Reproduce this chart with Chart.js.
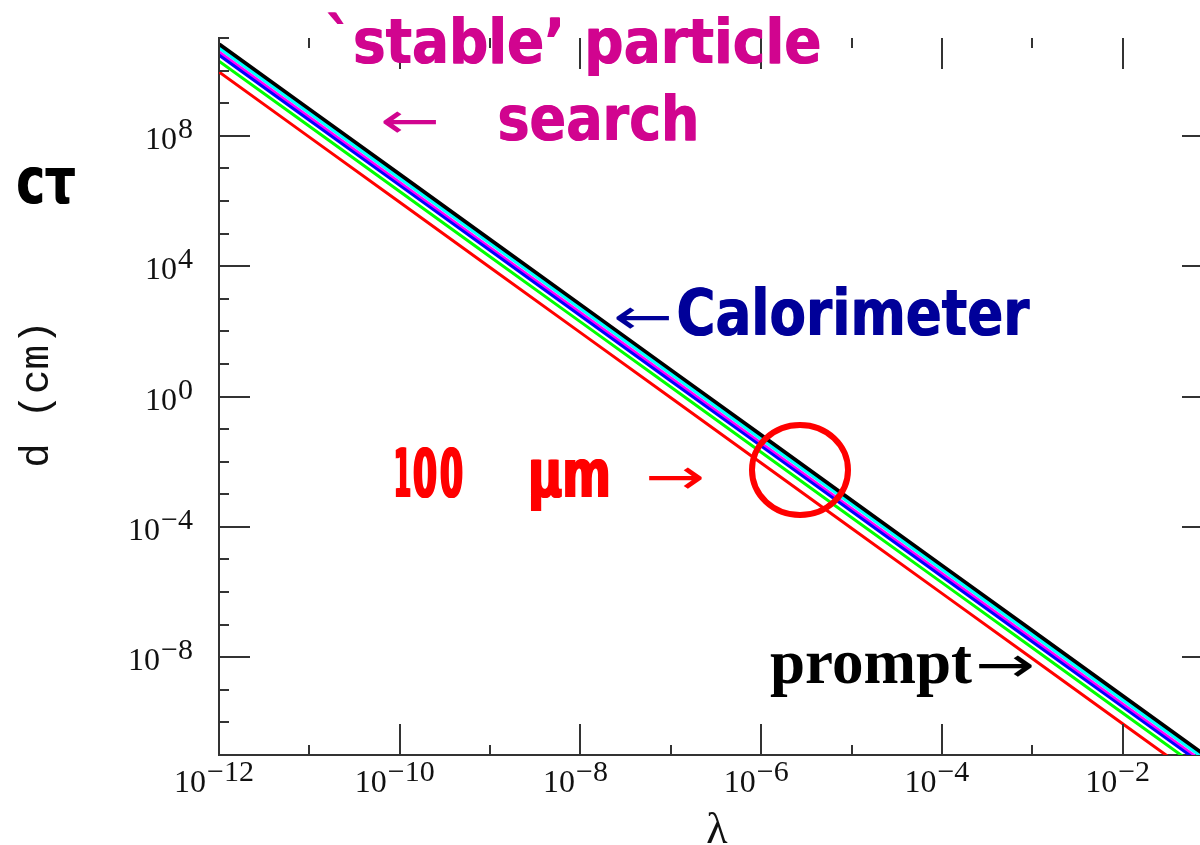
<!DOCTYPE html>
<html>
<head>
<meta charset="utf-8">
<title>d vs lambda</title>
<script src="https://cdn.jsdelivr.net/npm/chart.js@4.4.1/dist/chart.umd.min.js"></script>
<style>
  body { margin: 0; background: #fff; overflow: hidden; }
  #wrap { position: absolute; left: 0; top: 0; width: 1215px; height: 845px; }
</style>
</head>
<body>
<div id="wrap"><canvas id="decayChart"></canvas></div>
<script>
// lambda values (x) and decay length d in cm (y)
const lambdaVals = [1e-12, 1e-11, 1e-10, 1e-9, 1e-8, 1e-7, 1e-6, 1e-5, 1e-4, 1e-3, 1e-2, 1e-1];
const dBlack   = [6.2e10, 6.2e8, 6.2e6, 6.2e4, 6.2e2, 6.2, 6.2e-2, 6.2e-4, 6.2e-6, 6.2e-8, 6.2e-10, 6.2e-12];
const dCyan    = [4.9e10, 4.9e8, 4.9e6, 4.9e4, 4.9e2, 4.9, 4.9e-2, 4.9e-4, 4.9e-6, 4.9e-8, 4.9e-10, 4.9e-12];
const dMagenta = [3.7e10, 3.7e8, 3.7e6, 3.7e4, 3.7e2, 3.7, 3.7e-2, 3.7e-4, 3.7e-6, 3.7e-8, 3.7e-10, 3.7e-12];
const dBlue    = [3.0e10, 3.0e8, 3.0e6, 3.0e4, 3.0e2, 3.0, 3.0e-2, 3.0e-4, 3.0e-6, 3.0e-8, 3.0e-10, 3.0e-12];
const dGreen   = [1.95e10, 1.95e8, 1.95e6, 1.95e4, 1.95e2, 1.95, 1.95e-2, 1.95e-4, 1.95e-6, 1.95e-8, 1.95e-10, 1.95e-12];
const dRed     = [9.1e9, 9.1e7, 9.1e5, 9.1e3, 91, 0.91, 9.1e-3, 9.1e-5, 9.1e-7, 9.1e-9, 9.1e-11, 9.1e-13];

// decades that carry a label (and a long tick)
const xLabelExps = [-12, -10, -8, -6, -4, -2];
const yLabelExps = [8, 4, 0, -4, -8];
const xRange = [-12, -1];
const yRange = [-11, 11];

function pts(ys) {
  return lambdaVals.map((l, i) => ({ x: l, y: ys[i] }));
}

function line(label, ys, color, width, order) {
  return {
    label: label,
    data: pts(ys),
    borderColor: color,
    backgroundColor: color,
    borderWidth: width,
    pointRadius: 0,
    tension: 0,
    order: order
  };
}

// "10" with a raised exponent
function drawPow(ctx, exp, x, y, align) {
  const base = '10';
  const sup = (exp < 0 ? '\u2212' : '') + Math.abs(exp);
  ctx.font = '32px "Liberation Serif"';
  const wb = ctx.measureText(base).width;
  ctx.font = '30px "Liberation Serif"';
  const ws = ctx.measureText(sup).width;
  const total = wb + 1 + ws;
  const left = align === 'right' ? x - total : x - total / 2;
  ctx.textAlign = 'left';
  ctx.textBaseline = 'alphabetic';
  ctx.font = '32px "Liberation Serif"';
  ctx.fillText(base, left, y);
  ctx.font = '30px "Liberation Serif"';
  ctx.fillText(sup, left + wb + 1, y - 11);
}

// text squeezed/stretched to a given width; "heavy" smears it sideways a few px
function fitText(ctx, text, left, baseline, width, font, color, heavy) {
  heavy = heavy || 0;
  ctx.save();
  ctx.font = font;
  ctx.fillStyle = color;
  ctx.textAlign = 'left';
  ctx.textBaseline = 'alphabetic';
  const w = ctx.measureText(text).width;
  const sx = (width - heavy) / w;
  for (let dx = 0; dx <= heavy; dx++) {
    ctx.save();
    ctx.translate(left + dx, baseline);
    ctx.scale(sx, 1);
    ctx.fillText(text, 0, 0);
    ctx.restore();
  }
  ctx.restore();
}

function arrow(ctx, ch, left, midY, width, size, color) {
  fitText(ctx, ch, left, midY + size * 0.3, width, size + 'px "DejaVu Sans"', color);
}

const frame = {
  id: 'frame',
  afterDraw(chart) {
    const ctx = chart.ctx;
    const a = chart.chartArea;
    const xs = chart.scales.x, ys = chart.scales.y;
    ctx.save();
    ctx.strokeStyle = '#333';
    ctx.lineWidth = 2;
    ctx.beginPath();
    for (let e = xRange[0]; e <= xRange[1]; e++) {
      const px = Math.round(xs.getPixelForValue(Math.pow(10, e)));
      const len = xLabelExps.includes(e) ? 31 : 10;
      ctx.moveTo(px, a.bottom); ctx.lineTo(px, a.bottom - len);
      ctx.moveTo(px, a.top); ctx.lineTo(px, a.top + len);
    }
    for (let e = yRange[0]; e <= yRange[1]; e++) {
      const py = Math.round(ys.getPixelForValue(Math.pow(10, e)));
      const len = yLabelExps.includes(e) ? 31 : 10;
      ctx.moveTo(a.left, py); ctx.lineTo(a.left + len, py);
      ctx.moveTo(a.right, py); ctx.lineTo(a.right - len, py);
    }
    ctx.stroke();

    ctx.fillStyle = '#111';
    xLabelExps.forEach(e => {
      const px = xs.getPixelForValue(Math.pow(10, e));
      drawPow(ctx, e, px - 5, a.bottom + 37, 'center');
    });
    yLabelExps.forEach(e => {
      const py = ys.getPixelForValue(Math.pow(10, e));
      drawPow(ctx, e, 193, py + 13, 'right');
    });

    // axis titles
    ctx.fillStyle = '#111';
    ctx.font = '44px "Liberation Serif"';
    ctx.textAlign = 'center';
    ctx.textBaseline = 'alphabetic';
    ctx.fillText('\u03bb', 717, 843);

    ctx.save();
    ctx.translate(48, 394);
    ctx.rotate(-Math.PI / 2);
    ctx.font = '41px "Liberation Mono"';
    ctx.textAlign = 'center';
    ctx.fillText('d (cm)', 0, 0);
    ctx.restore();

    fitText(ctx, 'c\u03c4', 16, 203, 60, 'bold 64px "DejaVu Sans"', '#000', 1);

    // annotations
    const pink = '#d1048f', navy = '#000099', red = '#ff0000';
    fitText(ctx, '`stable\u2019 particle', 325, 63, 497, 'bold 62px "DejaVu Sans"', pink, 1);
    fitText(ctx, 'search', 497, 140, 203, 'bold 62px "DejaVu Sans"', pink, 1);
    arrow(ctx, '\u2190', 380, 123, 60, 50, pink);

    arrow(ctx, '\u2190', 613, 319, 60, 50, navy);
    fitText(ctx, 'Calorimeter', 676, 335, 354, 'bold 64px "DejaVu Sans"', navy, 1);

    // "100" set digit by digit so the narrow digits keep their gaps
    fitText(ctx, '1', 393, 497, 19, 'bold 68px "DejaVu Sans"', red, 2);
    fitText(ctx, '0', 412, 497, 26, 'bold 68px "DejaVu Sans"', red, 2);
    fitText(ctx, '0', 439, 497, 25, 'bold 68px "DejaVu Sans"', red, 2);
    fitText(ctx, '\u03bcm', 527, 497, 85, 'bold 68px "DejaVu Sans"', red, 2);
    arrow(ctx, '\u2192', 645, 479, 60, 50, red);
    ctx.strokeStyle = red;
    ctx.lineWidth = 6;
    ctx.beginPath();
    ctx.ellipse(800, 470, 48, 45, 0, 0, Math.PI * 2);
    ctx.stroke();

    fitText(ctx, 'prompt', 770, 683, 202, 'bold 63px "Liberation Serif"', '#000');
    arrow(ctx, '\u2192', 975, 667, 60, 50, '#000');
    ctx.restore();
  }
};

const ctx1 = document.getElementById('decayChart');

new Chart(ctx1, {
  type: 'line',
  data: {
    datasets: [
      line('black', dBlack, '#000000', 5, 6),
      line('cyan', dCyan, '#00ffff', 3, 5),
      line('magenta', dMagenta, '#ff00ff', 3, 4),
      line('blue', dBlue, '#0000ff', 3, 3),
      line('green', dGreen, '#00ff00', 3, 2),
      line('red', dRed, '#ff0000', 3, 1)
    ]
  },
  options: {
    responsive: true,
    maintainAspectRatio: false,
    animation: false,
    layout: { padding: { left: 219, top: 38, right: 2, bottom: 90 } },
    plugins: { legend: { display: false }, tooltip: { enabled: false } },
    scales: {
      x: {
        type: 'logarithmic',
        min: Math.pow(10, xRange[0]),
        max: Math.pow(10, xRange[1]),
        grid: { display: false, drawTicks: false },
        border: { display: true, color: '#333', width: 2 },
        ticks: { display: false }
      },
      y: {
        type: 'logarithmic',
        min: Math.pow(10, yRange[0]),
        max: Math.pow(10, yRange[1]),
        grid: { display: false, drawTicks: false },
        border: { display: true, color: '#333', width: 2 },
        ticks: { display: false }
      }
    }
  },
  plugins: [frame]
});
</script>
</body>
</html>
